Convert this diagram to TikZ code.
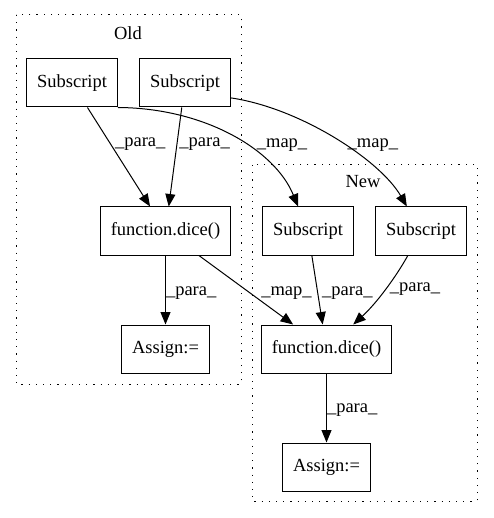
\documentclass[tikz,border=0pt]{standalone}
\usepackage{fontspec}
\setmainfont{Liberation Serif}
\usetikzlibrary{arrows.meta}

\tikzset{
  box/.style={draw, line width=1pt, minimum height=48pt, inner xsep=10.5pt, inner ysep=0pt},
  lbl/.style={anchor=west, inner sep=0pt},
  cluster/.style={line width=1pt, dash pattern=on 1.2pt off 6pt},
}

\begin{document}
\begin{tikzpicture}[x=1pt, y=-1pt, line width=1pt,
  font=\fontsize{18.5}{22}\selectfont,
  >={Triangle[length=12.5pt,width=10pt]}]
\useasboundingbox (0,0) rectangle (493,518);

\draw [cluster] (16,15) rectangle (241,384);
\draw [cluster] (252,165) rectangle (477,501);
\node (oldlbl) at (128,33) {Old};
\node (newlbl) at (363,182) {New};

\node [box] (osub1) at (72,83) {Subscript};
\node [box] (osub2) at (185,83) {Subscript};
\node [box] (odice) at (165.5,231) {function.dice()};
\node [box] (oassign) at (165.5,349) {Assign:=};

\node [box] (nsub1) at (308,231) {Subscript};
\node [box] (nsub2) at (421,231) {Subscript};
\node [box] (ndice) at (326.5,349) {function.dice()};
\node [box] (nassign) at (326.5,467) {Assign:=};

\draw [->] (osub1) -- node [lbl, pos=0.37, xshift=4pt] {\_para\_} (odice);
\draw [->] (osub2) -- node [lbl, pos=0.37, xshift=2pt] {\_para\_} (odice);
\draw [->] (osub1.south east) .. controls (205,108) and (275,150) .. 
		node [lbl, pos=0.58, xshift=10pt] {\_map\_} (nsub1);
\draw [->] (osub2.-18) .. controls (300,108) and (380,160) .. 
		node [lbl, pos=0.55, xshift=3pt] {\_map\_} (nsub2);

\draw [->] (odice) -- node [lbl, pos=0.54] {\_para\_} (oassign);
\draw [->] (odice) -- node [lbl, pos=0.54, xshift=11pt] {\_map\_} (ndice);
\draw [->] (nsub1) -- node [lbl, pos=0.54, xshift=4pt] {\_para\_} (ndice);
\draw [->] (nsub2) .. controls (400,270) and (380,300) .. 
		node [lbl, pos=0.54, xshift=4pt] {\_para\_} (ndice);
\draw [->] (ndice) -- node [lbl, pos=0.53] {\_para\_} (nassign);

\end{tikzpicture}
\end{document}
